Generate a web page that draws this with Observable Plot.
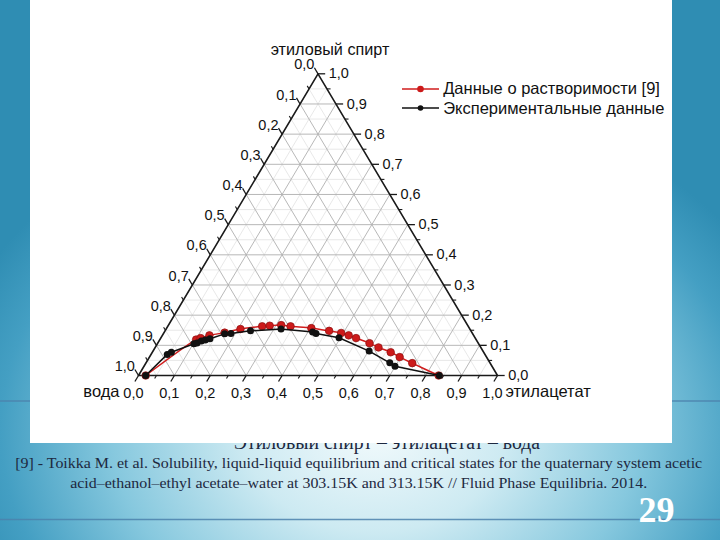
<!DOCTYPE html>
<html><head><meta charset="utf-8">
<script src="https://cdn.jsdelivr.net/npm/d3@7"></script>
<script src="https://cdn.jsdelivr.net/npm/@observablehq/plot@0.6"></script>
<style>
html,body{margin:0;padding:0;}
body{width:720px;height:540px;overflow:hidden;position:relative;
 background: radial-gradient(ellipse 440px 340px at 375px 430px, #f2fafc 0%, #cdeaf2 30%, #86c8de 60%, #449fc3 85%, #2f8db3 100%);}
#slide{position:absolute;left:0;top:0;}
#box{position:absolute;left:30px;top:0;width:642px;height:443px;background:#fff;}
#legend{position:absolute;left:371.7px;top:79px;font-family:"Liberation Sans",Arial,sans-serif;font-size:16.5px;color:#111;}
#legend .row{display:flex;align-items:center;height:19.5px;white-space:nowrap;}
#legend svg{margin-right:4.5px;}
</style></head>
<body>
<svg id="slide" width="720" height="540"></svg>
<div id="box"><div id="plot"></div><div id="legend"></div></div>
<script>
// ---- data ----
const tickValues = [0,0.1,0.2,0.3,0.4,0.5,0.6,0.7,0.8,0.9,1.0];
const tickLabels = ["0,0","0,1","0,2","0,3","0,4","0,5","0,6","0,7","0,8","0,9","1,0"];
const minorValues = [0.05,0.15,0.25,0.35,0.45,0.55,0.65,0.75,0.85,0.95];
const vertexLabels = ["вода","этилацетат","этиловый спирт"];
const seriesNames = ["Данные о растворимости [9]","Экспериментальные данные"];
const seriesColors = ["#d01c1c","#111111"];
// red: solubility data [9] (ethyl acetate fraction, ethanol fraction)
const redAcetate = [0.02,0.101,0.111,0.131,0.169,0.207,0.263,0.283,0.314,0.342,0.403,0.457,0.494,0.519,0.544,0.590,0.622,0.664,0.697,0.742,0.836];
const redEthanol = [0.00,0.119,0.124,0.133,0.142,0.154,0.163,0.165,0.167,0.163,0.157,0.148,0.141,0.133,0.124,0.107,0.093,0.077,0.061,0.041,0.00];
// black: experimental data
const blackAcetate = [0.02,0.045,0.053,0.102,0.109,0.118,0.127,0.138,0.171,0.188,0.238,0.320,0.413,0.425,0.496,0.602,0.679,0.699,0.838];
const blackEthanol = [0.00,0.070,0.077,0.105,0.108,0.114,0.118,0.122,0.138,0.139,0.148,0.154,0.144,0.139,0.125,0.081,0.042,0.031,0.00];
const captionText = "Этиловый спирт – этилацетат – вода";
const refLines = ["[9] - Toikka M. et al. Solubility, liquid-liquid equilibrium and critical states for the quaternary system acetic",
  "acid–ethanol–ethyl acetate–water at 303.15K and 313.15K // Fluid Phase Equilibria. 2014."];
const pageNumber = "29";

// ---- ternary helpers (a = ethyl acetate, e = ethanol) ----
const TX = (a,e) => a + e/2, TY = (a,e) => e;
const red = redAcetate.map((a,i)=>({x:TX(a,redEthanol[i]), y:TY(a,redEthanol[i])}));
const black = blackAcetate.map((a,i)=>({x:TX(a,blackEthanol[i]), y:TY(a,blackEthanol[i])}));

function gridSegs(vals){
  const s=[];
  for(const v of vals){
    if(v<=0||v>=1) continue;
    s.push({x1:TX(0,v),y1:v,x2:TX(1-v,v),y2:v});          // const ethanol
    s.push({x1:TX(v,0),y1:0,x2:TX(v,1-v),y2:1-v});        // const acetate
    s.push({x1:TX(1-v,0),y1:0,x2:TX(0,1-v),y2:1-v});      // const water
  }
  return s;
}
const gridMajor = gridSegs(tickValues);
const gridMinor = gridSegs(minorValues);
const edges = [[0,0],[1,0],[0,1],[0,0]].map(([a,e])=>({x:TX(a,e),y:TY(a,e)}));

const T=0.02;
function tickSegs(vals,t){
  const s=[];
  vals.forEach(v=>{
    s.push({x1:TX(v,0),y1:0,x2:TX(v,0)-t/2,y2:-t});                 // bottom (acetate)
    s.push({x1:TX(0,1-v),y1:1-v,x2:TX(-t,1-v+t),y2:1-v+t});        // left (water)
    s.push({x1:TX(1-v,v),y1:v,x2:TX(1-v+t,v),y2:v});               // right (ethanol)
  });
  return s;
}
const majorTicks = tickSegs(tickValues,T);
const minorTicksS = tickSegs(minorValues,T*0.5);

const lab = tickValues.map((v,i)=>({v, t:tickLabels[i]}));

const font = "Liberation Sans, Arial, sans-serif";
const chart = Plot.plot({
  width:642, height:443,
  marginLeft:108, marginRight:175, marginTop:73.3, marginBottom:68,
  x:{domain:[0,1], axis:null},
  y:{domain:[0,1], axis:null},
  style:{fontFamily:font, fontSize:"14.5px", background:"white", color:"#111", overflow:"visible"},
  marks:[
    Plot.link(gridMinor,{x1:"x1",y1:"y1",x2:"x2",y2:"y2",stroke:"#e2e2e2",strokeWidth:0.8}),
    Plot.link(gridMajor,{x1:"x1",y1:"y1",x2:"x2",y2:"y2",stroke:"#b0b0b0",strokeWidth:0.9}),
    Plot.link(minorTicksS,{x1:"x1",y1:"y1",x2:"x2",y2:"y2",stroke:"#1a1a1a",strokeWidth:1.1}),
    Plot.link(majorTicks,{x1:"x1",y1:"y1",x2:"x2",y2:"y2",stroke:"#1a1a1a",strokeWidth:1.3}),
    Plot.line(edges,{x:"x",y:"y",stroke:"#1a1a1a",strokeWidth:1.6}),
    // tick labels
    Plot.text(lab,{x:d=>TX(d.v,0)-T/2,y:-T,text:"t",textAnchor:"middle",lineAnchor:"middle",dx:-1.5,dy:11.5,fontSize:14.5,fill:"#111"}),
    Plot.text(lab,{x:d=>TX(-T,1-d.v+T),y:d=>1-d.v+T,text:"t",textAnchor:"end",lineAnchor:"middle",dx:0,dy:-3,fontSize:14.5,fill:"#111"}),
    Plot.text(lab,{x:d=>TX(1-d.v+T,d.v),y:d=>d.v,text:"t",textAnchor:"start",lineAnchor:"middle",dx:3.5,dy:0,fontSize:14.5,fill:"#111"}),
    // vertex labels
    Plot.text([vertexLabels[0]],{x:TX(0,0),y:0,text:d=>d,textAnchor:"end",lineAnchor:"middle",dx:-19,dy:16,fontSize:16.5,fill:"#111"}),
    Plot.text([vertexLabels[1]],{x:TX(1,0),y:0,text:d=>d,textAnchor:"start",lineAnchor:"middle",dx:8,dy:16,fontSize:16.5,fill:"#111"}),
    Plot.text([vertexLabels[2]],{x:TX(0,1),y:1,text:d=>d,textAnchor:"middle",lineAnchor:"middle",dx:12,dy:-23.5,fontSize:16.2,fill:"#111"}),
    // data
    Plot.line(red,{x:"x",y:"y",stroke:seriesColors[0],strokeWidth:1.5,curve:"catmull-rom"}),
    Plot.dot(red,{x:"x",y:"y",r:3.8,fill:"#cc1a1a",stroke:"#8c1010",strokeWidth:0.7}),
    Plot.line(black,{x:"x",y:"y",stroke:seriesColors[1],strokeWidth:1.5}),
    Plot.dot(black,{x:"x",y:"y",r:3.5,fill:"#111"})
  ]
});
document.getElementById("plot").appendChild(chart);

// legend
const leg = document.getElementById("legend");
seriesNames.forEach((n,i)=>{
  const row=document.createElement("div"); row.className="row";
  row.innerHTML=`<svg width="37" height="10"><line x1="0" y1="5" x2="37" y2="5" stroke="${seriesColors[i]}" stroke-width="1.6"/><circle cx="18.5" cy="5" r="${i?2.8:3.3}" fill="${i?'#111':'#cc1a1a'}"/></svg><span>${n}</span>`;
  leg.appendChild(row);
});

// slide decorations & texts
const ns="http://www.w3.org/2000/svg";
const sl=document.getElementById("slide");
function add(tag,attrs,txt){const el=document.createElementNS(ns,tag);for(const k in attrs)el.setAttribute(k,attrs[k]);if(txt!=null)el.textContent=txt;sl.appendChild(el);return el;}
add("line",{x1:0,y1:401,x2:720,y2:401,stroke:"#4c82ad","stroke-width":1.6,opacity:0.85});
add("line",{x1:0,y1:519.5,x2:720,y2:519.5,stroke:"#4c82ad","stroke-width":1.6,opacity:0.85});
add("text",{x:387,y:449,"text-anchor":"middle","font-family":"Liberation Serif, Times New Roman, serif","font-size":20,fill:"#1d2840",textLength:306,lengthAdjust:"spacingAndGlyphs"},captionText);
add("text",{x:358.7,y:468,"text-anchor":"middle","font-family":"Liberation Serif, Times New Roman, serif","font-size":14.5,fill:"#1d2840",textLength:687,lengthAdjust:"spacingAndGlyphs"},refLines[0]);
add("text",{x:358.7,y:487.5,"text-anchor":"middle","font-family":"Liberation Serif, Times New Roman, serif","font-size":14.5,fill:"#1d2840",textLength:577,lengthAdjust:"spacingAndGlyphs"},refLines[1]);
add("text",{x:656.5,y:522,"text-anchor":"middle","font-family":"Liberation Serif, Times New Roman, serif","font-size":36,"font-weight":"bold",fill:"#ffffff"},pageNumber);
</script>
</body></html>
